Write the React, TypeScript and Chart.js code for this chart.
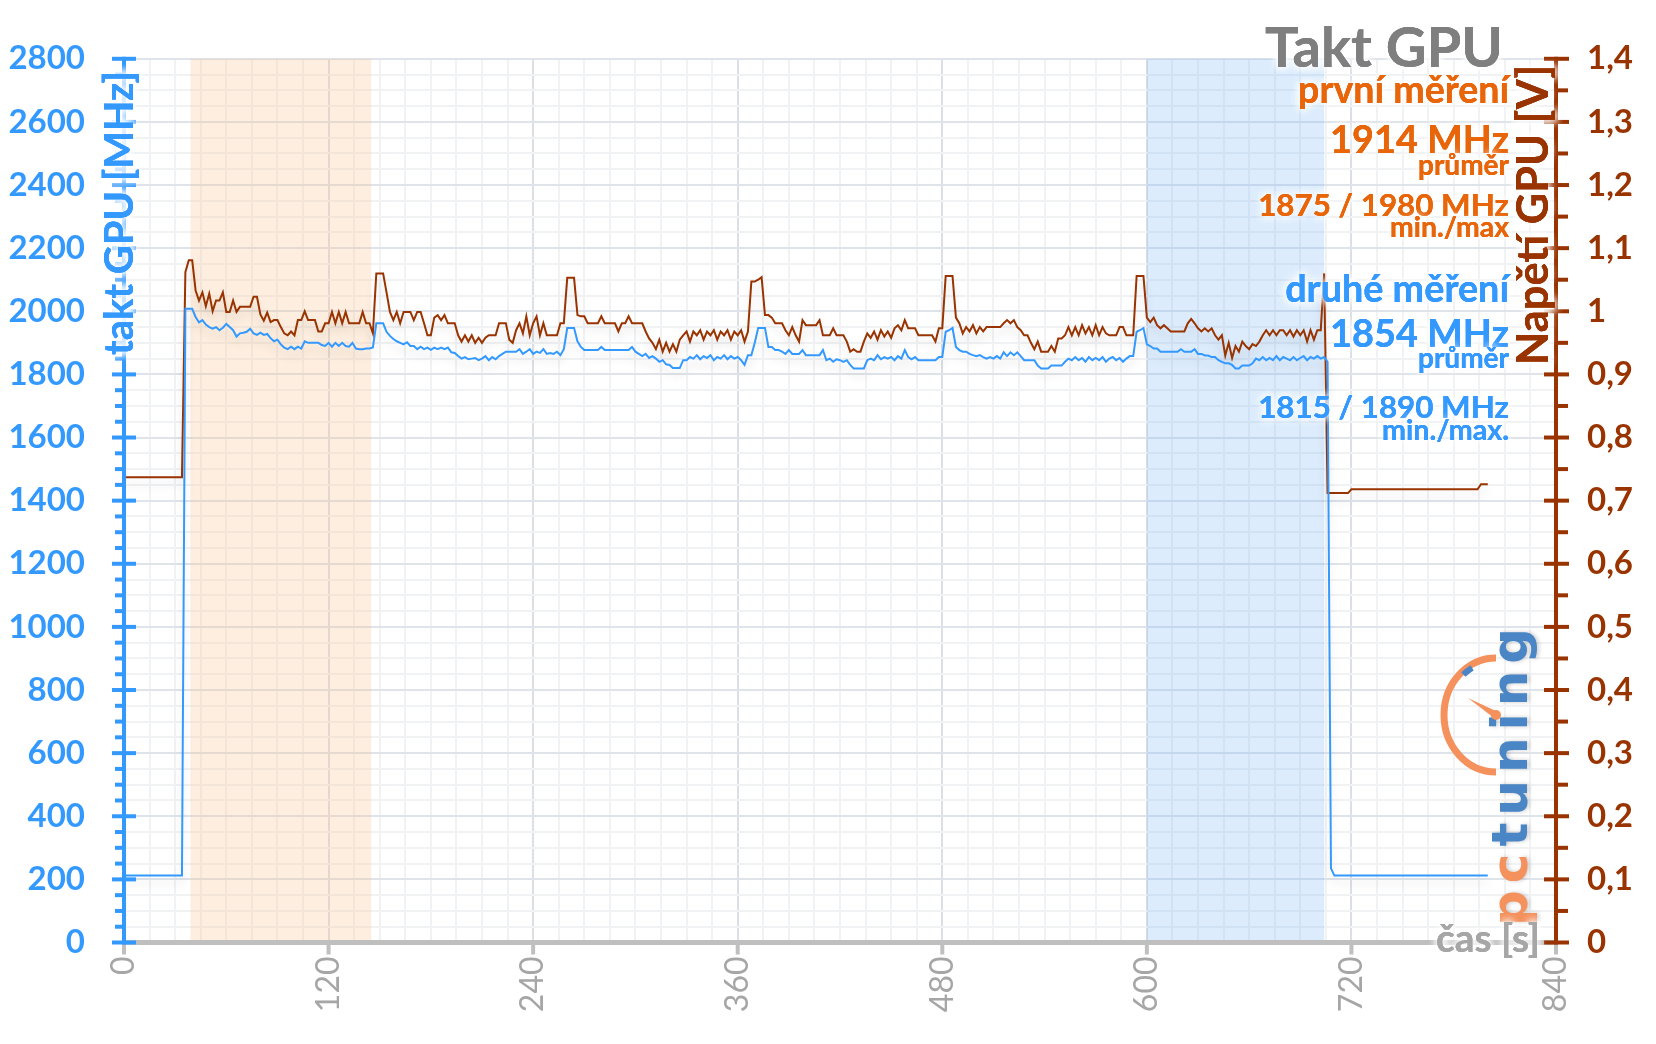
import React, { useEffect, useRef } from 'react';
import { Chart, registerables } from 'chart.js';

Chart.register(...registerables);

// ---------- data ----------
const TIME_STEP_S = 2; // one sample every 2 s, starting at 0 s
const X_MAX_S = 840;
const X_LABEL_STEP_S = 120;
const X_GRID_STEP_S = 15;
const CLOCK_MAX = 2800;
const CLOCK_LABEL_STEP = 200;
const CLOCK_GRID_STEP = 50;
const VOLT_MAX = 1.4;
const VOLT_LABEL_STEP = 0.1;

// GPU clock [MHz]
const clockMHz = [
  212, 212, 212, 212, 212, 212, 212, 212, 212, 212,
  212, 212, 212, 212, 212, 212, 212, 212, 2008, 2008,
  2008, 1982, 1965, 1972, 1958, 1950, 1945, 1950, 1940, 1948,
  1960, 1950, 1940, 1920, 1930, 1932, 1935, 1945, 1930, 1925,
  1932, 1925, 1928, 1915, 1905, 1910, 1895, 1885, 1880, 1888,
  1880, 1888, 1882, 1905, 1900, 1900, 1900, 1900, 1893, 1890,
  1900, 1888, 1900, 1890, 1900, 1890, 1888, 1900, 1882, 1880,
  1880, 1882, 1882, 1885, 1962, 1962, 1962, 1935, 1922, 1912,
  1905, 1900, 1895, 1902, 1890, 1890, 1880, 1888, 1880, 1885,
  1878, 1885, 1880, 1885, 1880, 1885, 1870, 1868, 1858, 1850,
  1855, 1848, 1850, 1852, 1845, 1850, 1858, 1845, 1855, 1848,
  1858, 1865, 1872, 1872, 1872, 1872, 1880, 1865, 1872, 1880,
  1865, 1872, 1868, 1880, 1865, 1868, 1865, 1872, 1861, 1880,
  1947, 1947, 1947, 1905, 1887, 1877, 1877, 1877, 1877, 1877,
  1887, 1877, 1877, 1877, 1877, 1877, 1877, 1877, 1877, 1887,
  1872, 1865, 1858, 1865, 1852, 1858, 1850, 1840, 1845, 1832,
  1830, 1820, 1820, 1820, 1845, 1845, 1855, 1850, 1861, 1848,
  1858, 1852, 1861, 1845, 1855, 1850, 1861, 1848, 1858, 1850,
  1855, 1845, 1830, 1861, 1861, 1900, 1947, 1947, 1947, 1887,
  1887, 1877, 1877, 1872, 1865, 1877, 1865, 1865, 1865, 1877,
  1861, 1861, 1861, 1861, 1861, 1877, 1845, 1850, 1840, 1848,
  1845, 1840, 1845, 1830, 1819, 1819, 1819, 1819, 1845, 1850,
  1845, 1861, 1848, 1855, 1850, 1855, 1845, 1858, 1850, 1877,
  1855, 1848, 1855, 1845, 1845, 1845, 1845, 1845, 1845, 1855,
  1855, 1935, 1940, 1947, 1887, 1877, 1872, 1872, 1865, 1861,
  1858, 1861, 1855, 1850, 1855, 1850, 1858, 1850, 1870, 1858,
  1870, 1861, 1870, 1858, 1845, 1845, 1845, 1845, 1828, 1819,
  1819, 1819, 1828, 1828, 1828, 1828, 1840, 1850, 1845, 1855,
  1845, 1852, 1840, 1855, 1845, 1852, 1845, 1855, 1840, 1850,
  1855, 1845, 1852, 1840, 1850, 1858, 1858, 1935, 1940, 1947,
  1895, 1890, 1882, 1882, 1872, 1872, 1872, 1872, 1872, 1872,
  1880, 1872, 1872, 1872, 1880, 1865, 1865, 1860, 1860, 1855,
  1855, 1845, 1840, 1835, 1835, 1830, 1819, 1819, 1828, 1828,
  1828, 1835, 1850, 1845, 1855, 1845, 1852, 1845, 1858, 1845,
  1855, 1850, 1845, 1855, 1845, 1852, 1858, 1845, 1855, 1850,
  1858, 1850, 1855, 1840, 235, 212, 212, 212, 212, 212,
  212, 212, 212, 212, 212, 212, 212, 212, 212, 212,
  212, 212, 212, 212, 212, 212, 212, 212, 212, 212,
  212, 212, 212, 212, 212, 212, 212, 212, 212, 212,
  212, 212, 212, 212, 212, 212, 212, 212, 212, 212,
  212,
];

// GPU voltage [V]
const voltageV = [
  0.737, 0.737, 0.737, 0.737, 0.737, 0.737, 0.737, 0.737, 0.737, 0.737,
  0.737, 0.737, 0.737, 0.737, 0.737, 0.737, 0.737, 0.737, 1.062, 1.081,
  1.081, 1.033, 1.017, 1.030, 1.008, 1.028, 1.000, 1.017, 1.017, 1.030,
  0.999, 0.999, 1.017, 0.999, 1.007, 1.007, 1.007, 1.007, 1.023, 1.023,
  0.995, 0.985, 0.998, 0.983, 0.986, 0.986, 0.975, 0.965, 0.962, 0.968,
  0.962, 0.986, 0.986, 1.000, 0.986, 0.986, 0.986, 0.968, 0.968, 0.981,
  0.981, 0.999, 0.981, 0.999, 0.981, 0.999, 0.981, 0.981, 0.981, 0.981,
  0.999, 0.981, 0.981, 0.965, 1.060, 1.060, 1.060, 1.030, 0.999, 0.986,
  0.999, 0.981, 0.999, 0.999, 0.999, 0.986, 0.999, 0.999, 0.981, 0.962,
  0.962, 0.990, 0.994, 0.986, 0.994, 0.981, 0.981, 0.981, 0.962, 0.952,
  0.962, 0.952, 0.962, 0.950, 0.958, 0.950, 0.958, 0.962, 0.962, 0.962,
  0.981, 0.981, 0.981, 0.955, 0.950, 0.970, 0.981, 0.965, 0.992, 0.962,
  0.981, 0.992, 0.962, 0.981, 0.962, 0.962, 0.962, 0.962, 0.981, 0.981,
  1.053, 1.053, 1.053, 0.994, 0.992, 0.992, 0.981, 0.981, 0.981, 0.981,
  0.992, 0.981, 0.981, 0.981, 0.981, 0.968, 0.981, 0.981, 0.992, 0.981,
  0.981, 0.981, 0.981, 0.968, 0.957, 0.950, 0.940, 0.955, 0.936, 0.950,
  0.936, 0.948, 0.936, 0.955, 0.962, 0.968, 0.952, 0.968, 0.962, 0.970,
  0.955, 0.968, 0.962, 0.970, 0.955, 0.968, 0.962, 0.970, 0.955, 0.968,
  0.962, 0.970, 0.952, 0.968, 1.047, 1.047, 1.050, 1.054, 0.994, 0.994,
  0.990, 0.981, 0.981, 0.981, 0.970, 0.962, 0.975, 0.962, 0.952, 0.986,
  0.978, 0.978, 0.978, 0.978, 0.986, 0.962, 0.962, 0.962, 0.973, 0.962,
  0.962, 0.962, 0.952, 0.936, 0.940, 0.936, 0.936, 0.952, 0.965, 0.958,
  0.968, 0.955, 0.970, 0.960, 0.968, 0.958, 0.973, 0.978, 0.970, 0.986,
  0.973, 0.973, 0.973, 0.962, 0.962, 0.962, 0.962, 0.962, 0.952, 0.973,
  0.973, 1.056, 1.056, 1.056, 0.990, 0.981, 0.965, 0.975, 0.968, 0.978,
  0.965, 0.975, 0.968, 0.975, 0.975, 0.975, 0.975, 0.975, 0.981, 0.986,
  0.981, 0.986, 0.975, 0.970, 0.962, 0.962, 0.950, 0.940, 0.952, 0.936,
  0.936, 0.936, 0.945, 0.936, 0.957, 0.957, 0.962, 0.975, 0.962, 0.975,
  0.962, 0.978, 0.965, 0.975, 0.962, 0.978, 0.962, 0.975, 0.965, 0.962,
  0.962, 0.962, 0.975, 0.975, 0.962, 0.962, 0.962, 1.056, 1.056, 1.056,
  0.990, 0.983, 0.990, 0.978, 0.973, 0.978, 0.973, 0.968, 0.968, 0.968,
  0.968, 0.968, 0.981, 0.988, 0.981, 0.973, 0.968, 0.973, 0.968, 0.973,
  0.962, 0.955, 0.962, 0.930, 0.950, 0.926, 0.945, 0.936, 0.952, 0.945,
  0.940, 0.948, 0.945, 0.952, 0.962, 0.970, 0.962, 0.970, 0.962, 0.970,
  0.970, 0.962, 0.970, 0.960, 0.970, 0.962, 0.970, 0.952, 0.970, 0.955,
  0.970, 0.970, 1.060, 0.712, 0.712, 0.712, 0.712, 0.712, 0.712, 0.712,
  0.718, 0.718, 0.718, 0.718, 0.718, 0.718, 0.718, 0.718, 0.718, 0.718,
  0.718, 0.718, 0.718, 0.718, 0.718, 0.718, 0.718, 0.718, 0.718, 0.718,
  0.718, 0.718, 0.718, 0.718, 0.718, 0.718, 0.718, 0.718, 0.718, 0.718,
  0.718, 0.718, 0.718, 0.718, 0.718, 0.718, 0.718, 0.718, 0.726, 0.726,
  0.726,
];

// measured windows [s]
const firstRunS = [39, 145];
const secondRunS = [600, 704];

// texts
const chartTitle = 'Takt GPU';
const leftAxisTitle = 'takt GPU [MHz]';
const rightAxisTitle = 'Napětí GPU [V]';
const xAxisTitle = 'čas [s]';
const firstRunNotes = ['první měření', '1914 MHz', 'průměr', '1875 / 1980 MHz', 'min./max'];
const secondRunNotes = ['druhé měření', '1854 MHz', 'průměr', '1815 / 1890 MHz', 'min./max.'];
const logoParts = ['pc', 'tuning'];

// ---------- styling ----------
const BLUE = '#3399ff';
const BROWN = '#993300';
const ORANGE = '#e8650a';
const TITLE_GRAY = '#7f7f7f';
const AXIS_GRAY = '#bfbfbf';
const LABEL_GRAY = '#a6a6a6';
const LOGO_ORANGE = '#f4915c';
const LOGO_BLUE = '#4a86c6';
const FONT = 'Lato';

function fitSize(ctx: CanvasRenderingContext2D, text: string, weight: string, family: string, width: number) {
  ctx.font = `${weight} 100px ${family}`;
  const w = ctx.measureText(text).width;
  return (100 * width) / w;
}

function glowText(
  ctx: CanvasRenderingContext2D,
  text: string,
  x: number,
  y: number,
  color: string,
  blur = 8,
  passes = 3,
) {
  ctx.save();
  ctx.fillStyle = color;
  ctx.shadowColor = 'rgba(255,255,255,1)';
  ctx.shadowBlur = blur;
  for (let i = 0; i < passes; i++) ctx.fillText(text, x, y);
  ctx.shadowBlur = 0;
  ctx.shadowColor = 'transparent';
  ctx.fillText(text, x, y);
  ctx.restore();
}

const decorPlugin = {
  id: 'decor',
  beforeDatasetsDraw(chart: any) {
    const { ctx, chartArea: a, scales } = chart;
    const x = scales.x;
    const bands: [number[], string][] = [
      [firstRunS, 'rgba(250,200,150,0.30)'],
      [secondRunS, 'rgba(120,180,245,0.26)'],
    ];
    ctx.save();
    for (const [range, color] of bands) {
      const x0 = x.getPixelForValue(range[0]);
      const x1 = x.getPixelForValue(range[1]);
      ctx.fillStyle = color;
      ctx.fillRect(x0, a.top, x1 - x0, a.bottom - a.top);
    }
    ctx.restore();
  },
  beforeDatasetDraw(chart: any) {
    const ctx = chart.ctx;
    ctx.shadowColor = 'rgba(0,0,0,0.13)';
    ctx.shadowBlur = 10;
    ctx.shadowOffsetY = 7;
  },
  afterDatasetDraw(chart: any) {
    const ctx = chart.ctx;
    ctx.shadowColor = 'transparent';
    ctx.shadowBlur = 0;
    ctx.shadowOffsetY = 0;
  },
  afterDatasetsDraw(chart: any) {
    const { ctx, chartArea: a, scales } = chart;
    const { x, y, y1 } = scales;
    ctx.save();
    // x axis
    ctx.strokeStyle = AXIS_GRAY;
    ctx.lineWidth = 5;
    ctx.beginPath();
    ctx.moveTo(a.left, a.bottom);
    ctx.lineTo(a.right, a.bottom);
    ctx.stroke();
    ctx.fillStyle = AXIS_GRAY;
    for (let v = 0; v <= X_MAX_S; v += X_LABEL_STEP_S) {
      const px = x.getPixelForValue(v);
      ctx.fillRect(px - 2, a.bottom, 4, 12);
    }
    // left axis
    ctx.fillStyle = BLUE;
    ctx.fillRect(a.left - 2, a.top - 2, 4, a.bottom - a.top + 4);
    for (let v = 0; v <= CLOCK_MAX; v += CLOCK_GRID_STEP) {
      const py = y.getPixelForValue(v);
      if (v % CLOCK_LABEL_STEP === 0) ctx.fillRect(a.left - 12, py - 2, 24, 4);
      else ctx.fillRect(a.left - 9, py - 2, 9, 4);
    }
    // right axis
    ctx.fillStyle = BROWN;
    ctx.fillRect(a.right - 2, a.top - 2, 4, a.bottom - a.top + 4);
    for (let i = 0; i <= 28; i++) {
      const py = y1.getPixelForValue((i * VOLT_LABEL_STEP) / 2);
      if (i % 2 === 0) ctx.fillRect(a.right - 12, py - 2, 25, 4);
      else ctx.fillRect(a.right, py - 2, 12, 4);
    }
    ctx.restore();
  },
  afterDraw(chart: any) {
    const { ctx, chartArea: a } = chart;
    ctx.save();

    // axis titles
    const drawRotated = (text: string, cx: number, cy: number, len: number, color: string) => {
      const size = fitSize(ctx, text, 'bold', FONT, len);
      ctx.save();
      ctx.translate(cx, cy);
      ctx.rotate(-Math.PI / 2);
      ctx.font = `bold ${size}px ${FONT}`;
      ctx.textAlign = 'center';
      ctx.textBaseline = 'middle';
      glowText(ctx, text, 0, 0, color, 10, 4);
      ctx.restore();
    };
    drawRotated(leftAxisTitle, a.left - 4, 213, 284, BLUE);
    drawRotated(rightAxisTitle, a.right - 22, 215, 300, BROWN);

    // logo
    ctx.save();
    ctx.translate(1527, 926);
    ctx.rotate(-Math.PI / 2);
    ctx.font = `bold 50px 'DejaVu Sans'`;
    (ctx as any).letterSpacing = '7px';
    ctx.textAlign = 'left';
    ctx.textBaseline = 'alphabetic';
    ctx.shadowColor = 'rgba(0,0,0,0.2)';
    ctx.shadowBlur = 4;
    ctx.shadowOffsetX = 2;
    ctx.fillStyle = LOGO_ORANGE;
    ctx.fillText(logoParts[0], 0, 0);
    const w0 = ctx.measureText(logoParts[0]).width;
    ctx.fillStyle = LOGO_BLUE;
    ctx.fillText(logoParts[1], w0, 0);
    ctx.restore();
    // gauge
    const gx = 1496;
    const gy = 715;
    ctx.save();
    ctx.lineCap = 'butt';
    ctx.strokeStyle = LOGO_ORANGE;
    ctx.lineWidth = 7;
    ctx.beginPath();
    ctx.ellipse(gx, gy, 52, 57, 0, -Math.PI / 2, Math.PI / 2, true);
    ctx.stroke();
    ctx.strokeStyle = LOGO_BLUE;
    ctx.lineWidth = 6;
    ctx.beginPath();
    ctx.ellipse(gx, gy, 49, 54, 0, -2.3, -2.08, false);
    ctx.stroke();
    ctx.fillStyle = LOGO_ORANGE;
    ctx.beginPath();
    ctx.moveTo(gx - 28, gy - 17);
    ctx.lineTo(gx + 2, gy - 3);
    ctx.lineTo(gx - 2, gy + 3);
    ctx.closePath();
    ctx.fill();
    ctx.beginPath();
    ctx.arc(gx, gy, 5, 0, Math.PI * 2);
    ctx.fill();
    ctx.restore();

    // chart title and notes (right aligned)
    ctx.textAlign = 'right';
    ctx.textBaseline = 'alphabetic';
    const note = (text: string, right: number, baseline: number, width: number, color: string) => {
      const size = fitSize(ctx, text, 'bold', FONT, width);
      ctx.font = `bold ${size}px ${FONT}`;
      glowText(ctx, text, right, baseline, color, 8, 3);
    };
    note(chartTitle, 1503, 67, 238, TITLE_GRAY);
    const firstLayout = [[103, 211], [153, 179], [175, 91], [216, 251], [237, 119]];
    const secondLayout = [[302, 224], [347, 179], [368, 91], [418, 251], [440, 127]];
    firstRunNotes.forEach((t, i) => note(t, 1509, firstLayout[i][0], firstLayout[i][1], ORANGE));
    secondRunNotes.forEach((t, i) => note(t, 1509, secondLayout[i][0], secondLayout[i][1], BLUE));

    // x axis title
    note(xAxisTitle, 1540, 952, 104, LABEL_GRAY);
    ctx.restore();
  },
};

export default function App() {
  const canvasRef = useRef<HTMLCanvasElement | null>(null);

  useEffect(() => {
    const canvas = canvasRef.current;
    if (!canvas) return;
    const clockPts = clockMHz.map((v, i) => ({ x: i * TIME_STEP_S, y: v }));
    const voltPts = voltageV.map((v, i) => ({ x: i * TIME_STEP_S, y: v }));

    const chart = new Chart(canvas, {
      type: 'line',
      data: {
        datasets: [
          {
            label: 'takt GPU',
            data: clockPts,
            yAxisID: 'y',
            borderColor: BLUE,
            borderWidth: 2,
            pointRadius: 0,
            tension: 0,
            fill: false,
          },
          {
            label: 'napětí GPU',
            data: voltPts,
            yAxisID: 'y1',
            borderColor: BROWN,
            borderWidth: 2,
            pointRadius: 0,
            tension: 0,
            fill: false,
          },
        ],
      },
      options: {
        responsive: false,
        animation: false,
        devicePixelRatio: 1,
        layout: { padding: { top: 56.5, left: 0, right: 0, bottom: 0 } },
        plugins: { legend: { display: false }, tooltip: { enabled: false } },
        scales: {
          x: {
            type: 'linear',
            min: 0,
            max: X_MAX_S,
            afterFit: (s: any) => {
              s.height = 101.5;
            },
            border: { display: false },
            grid: {
              drawTicks: false,
              lineWidth: 2,
              color: (c: any) =>
                c.tick && c.tick.value % X_LABEL_STEP_S === 0 ? '#dcdfe5' : '#f1f2f4',
            },
            ticks: {
              stepSize: X_GRID_STEP_S,
              autoSkip: false,
              minRotation: 90,
              maxRotation: 90,
              padding: 14,
              color: LABEL_GRAY,
              font: { family: FONT, size: 32 },
              callback: (v: any) => (Number(v) % X_LABEL_STEP_S === 0 ? String(v) : ''),
            },
          },
          y: {
            type: 'linear',
            position: 'left',
            min: 0,
            max: CLOCK_MAX,
            afterFit: (s: any) => {
              s.width = 124;
            },
            border: { display: false },
            grid: {
              drawTicks: false,
              lineWidth: 2,
              color: (c: any) =>
                c.tick && c.tick.value % CLOCK_LABEL_STEP === 0 ? '#dfe3ea' : '#f1f2f4',
            },
            ticks: {
              stepSize: CLOCK_GRID_STEP,
              autoSkip: false,
              padding: 39,
              color: BLUE,
              font: { family: FONT, size: 33, weight: 'bold' },
              callback: (v: any) => (Number(v) % CLOCK_LABEL_STEP === 0 ? String(v) : ''),
            },
          },
          y1: {
            type: 'linear',
            position: 'right',
            min: 0,
            max: VOLT_MAX,
            afterFit: (s: any) => {
              s.width = 100;
            },
            border: { display: false },
            grid: { drawOnChartArea: false, drawTicks: false },
            ticks: {
              stepSize: VOLT_LABEL_STEP,
              autoSkip: false,
              padding: 31,
              color: BROWN,
              font: { family: FONT, size: 33, weight: 'bold' },
              callback: (v: any) => String(Math.round(Number(v) * 10) / 10).replace('.', ','),
            },
          },
        },
      },
      plugins: [decorPlugin],
    });
    return () => chart.destroy();
  }, []);

  return (
    <div style={{ position: 'absolute', left: 0, top: 0, width: 1656, height: 1044, background: '#fff' }}>
      <canvas ref={canvasRef} width={1656} height={1044} style={{ width: 1656, height: 1044, display: 'block' }} />
    </div>
  );
}
